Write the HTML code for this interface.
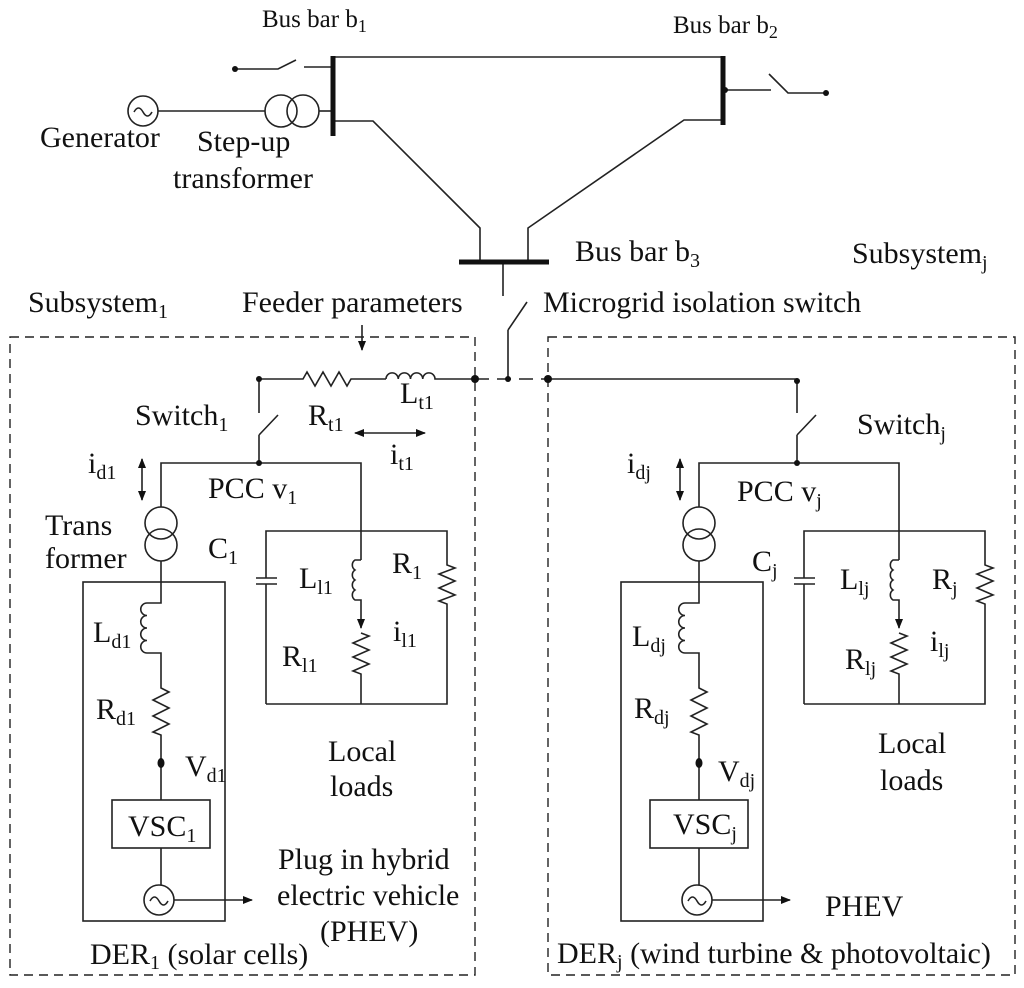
<!DOCTYPE html>
<html><head><meta charset="utf-8"><style>
html,body{margin:0;padding:0;background:#fff;}
svg{display:block;}
text{font-family:"Liberation Serif",serif;font-size:30px;fill:#111;}
.s{font-size:20px;}
.b{font-size:25px;}
.bs{font-size:18px;}
</style></head><body>
<svg width="1024" height="988" viewBox="0 0 1024 988" xmlns="http://www.w3.org/2000/svg">
<defs>
<marker id="ah" markerWidth="10" markerHeight="8" refX="9" refY="4" orient="auto-start-reverse" markerUnits="userSpaceOnUse"><path d="M0,0 L10,4 L0,8 z" fill="#111"/></marker>
<g id="circ" fill="none" stroke="#222" stroke-width="1.6">
  <path d="M259,379 V413 M259,435 L278,415 M259,435 V463"/>
  <path d="M161,507 V463 H361 V560"/>
  <circle cx="161" cy="523" r="16"/><circle cx="161" cy="545" r="16"/>
  <path d="M161,561 V603 H147 M147,603 a6,6 0 0 0 0,12.5 a6,6 0 0 0 0,12.5 a6,6 0 0 0 0,12.5 a6,6 0 0 0 0,12.5 H161 V688 l8,4 l-16,8 l16,8 l-16,8 l16,8 l-16,8 l8,3 V800"/>
  <rect x="112" y="800" width="98" height="48"/>
  <path d="M161,848 V885"/>
  <circle cx="159" cy="900" r="15"/>
  <path d="M150,901 q4.5,-8 9,0 q4.5,8 9,0"/>
  <path d="M174,900 H252" marker-end="url(#ah)"/>
  <rect x="83" y="582" width="142" height="339"/>
  <path d="M361,560 h-6 a6,6 0 0 0 0,10 a6,6 0 0 0 0,10 a6,6 0 0 0 0,10 a6,6 0 0 0 0,10 h6 V628" marker-end="url(#ah)"/>
  <path d="M361,633 l8,3 l-16,7 l16,7 l-16,7 l16,7 l-16,7 l8,3 V704"/>
  <path d="M266,704 V584 M266,578 V531 H447 V565 l8,3 l-16,6 l16,7 l-16,7 l16,7 l-16,6 l8,3 V704 H266"/>
  <path d="M256,578 H277 M256,584 H277"/>
</g>
</defs>

<g fill="none" stroke="#222" stroke-width="1.6">
  <path d="M235,69 H278 L296,60 M304,67 H333"/>
  <circle cx="143" cy="111" r="15"/>
  <path d="M134,112 q4.5,-8 9,0 q4.5,8 9,0"/>
  <path d="M158,111 H265"/>
  <circle cx="281" cy="111" r="16"/><circle cx="303" cy="111" r="16"/>
  <path d="M319,111 H333"/>
  <path d="M333,57 H723"/>
  <path d="M333,121 H373 L480,228 V262"/>
  <path d="M723,120 H684 L528,228 V262"/>
  <path d="M723,90 H771 M769,74 L788,93 H826"/>
  <path d="M503,262 V296 M508,330 L527,302 M508,330 V379"/>
  <path d="M259,379 H303 l4,-7 l8,14 l8,-14 l8,14 l8,-14 l8,14 l4,-7 H386 M386,379 a6,6 0 0 1 12.25,0 a6,6 0 0 1 12.25,0 a6,6 0 0 1 12.25,0 a6,6 0 0 1 12.25,0 H475"/>
  <path d="M475,379 H548" stroke-dasharray="14,8"/>
  <path d="M548,379 H797 V381"/>
  <path d="M362,325 V350" marker-end="url(#ah)"/>
  <path d="M355,433 H425" marker-start="url(#ah)" marker-end="url(#ah)"/>
  <path d="M142,459 V500" marker-start="url(#ah)" marker-end="url(#ah)"/>
  <path d="M680,459 V500" marker-start="url(#ah)" marker-end="url(#ah)"/>
  <rect x="10" y="337" width="465" height="638" stroke-dasharray="9,6" stroke-width="1.4"/>
  <rect x="548" y="337" width="467" height="638" stroke-dasharray="9,6" stroke-width="1.4"/>
</g>
<g stroke="#111" stroke-width="5" fill="none">
  <path d="M333,56 V136 M723,56 V125 M459,262 H549"/>
</g>
<use href="#circ"/>
<use href="#circ" transform="translate(538,0)"/>
<g fill="#111">
  <circle cx="235" cy="69" r="3"/><circle cx="826" cy="93" r="3"/><circle cx="725" cy="90" r="3"/>
  <circle cx="503" cy="262" r="2.5"/>
  <circle cx="259" cy="379" r="3"/><circle cx="475" cy="379" r="4"/><circle cx="508" cy="379" r="3"/><circle cx="548" cy="379" r="4"/><circle cx="797" cy="381" r="3"/>
  <circle cx="259" cy="463" r="3"/><circle cx="797" cy="463" r="3"/>
  <ellipse cx="161" cy="763" rx="3.5" ry="5"/><ellipse cx="699" cy="763" rx="3.5" ry="5"/>
</g>

<text x="262" y="27" class="b">Bus bar b<tspan class="bs" dy="5">1</tspan></text>
<text x="673" y="33" class="b">Bus bar b<tspan class="bs" dy="5">2</tspan></text>
<text x="40" y="147">Generator</text>
<text x="197" y="151">Step-up</text>
<text x="173" y="188">transformer</text>
<text x="575" y="261">Bus bar b<tspan class="s" dy="6">3</tspan></text>
<text x="852" y="263">Subsystem<tspan class="s" dy="6">j</tspan></text>
<text x="28" y="312">Subsystem<tspan class="s" dy="6">1</tspan></text>
<text x="242" y="312">Feeder parameters</text>
<text x="543" y="312">Microgrid isolation switch</text>
<text x="400" y="403">L<tspan class="s" dy="6">t1</tspan></text>
<text x="135" y="425">Switch<tspan class="s" dy="6">1</tspan></text>
<text x="308" y="425">R<tspan class="s" dy="6">t1</tspan></text>
<text x="390" y="464">i<tspan class="s" dy="6">t1</tspan></text>
<text x="88" y="473">i<tspan class="s" dy="6">d1</tspan></text>
<text x="208" y="498">PCC v<tspan class="s" dy="6">1</tspan></text>
<text x="45" y="535">Trans</text>
<text x="45" y="568">former</text>
<text x="208" y="558">C<tspan class="s" dy="6">1</tspan></text>
<text x="299" y="588">L<tspan class="s" dy="6">l1</tspan></text>
<text x="392" y="573">R<tspan class="s" dy="6">1</tspan></text>
<text x="393" y="641">i<tspan class="s" dy="6">l1</tspan></text>
<text x="282" y="666">R<tspan class="s" dy="6">l1</tspan></text>
<text x="93" y="642">L<tspan class="s" dy="6">d1</tspan></text>
<text x="96" y="719">R<tspan class="s" dy="6">d1</tspan></text>
<text x="185" y="776">V<tspan class="s" dy="6">d1</tspan></text>
<text x="328" y="761">Local</text>
<text x="330" y="796">loads</text>
<text x="128" y="836">VSC<tspan class="s" dy="6">1</tspan></text>
<text x="278" y="869">Plug in hybrid</text>
<text x="277" y="905">electric vehicle</text>
<text x="320" y="941">(PHEV)</text>
<text x="90" y="964">DER<tspan class="s" dy="5">1</tspan><tspan dy="-5"> (solar cells)</tspan></text>

<text x="857" y="434">Switch<tspan class="s" dy="6">j</tspan></text>
<text x="627" y="473">i<tspan class="s" dy="6">dj</tspan></text>
<text x="737" y="501">PCC v<tspan class="s" dy="6">j</tspan></text>
<text x="752" y="571">C<tspan class="s" dy="6">j</tspan></text>
<text x="840" y="589">L<tspan class="s" dy="6">lj</tspan></text>
<text x="932" y="589">R<tspan class="s" dy="6">j</tspan></text>
<text x="930" y="651">i<tspan class="s" dy="6">lj</tspan></text>
<text x="845" y="669">R<tspan class="s" dy="6">lj</tspan></text>
<text x="632" y="646">L<tspan class="s" dy="6">dj</tspan></text>
<text x="634" y="718">R<tspan class="s" dy="6">dj</tspan></text>
<text x="718" y="781">V<tspan class="s" dy="6">dj</tspan></text>
<text x="878" y="753">Local</text>
<text x="880" y="790">loads</text>
<text x="673" y="834">VSC<tspan class="s" dy="6">j</tspan></text>
<text x="825" y="916">PHEV</text>
<text x="557" y="963">DER<tspan class="s" dy="5">j</tspan><tspan dy="-5"> (wind turbine &amp; photovoltaic)</tspan></text>
</svg>
</body></html>
